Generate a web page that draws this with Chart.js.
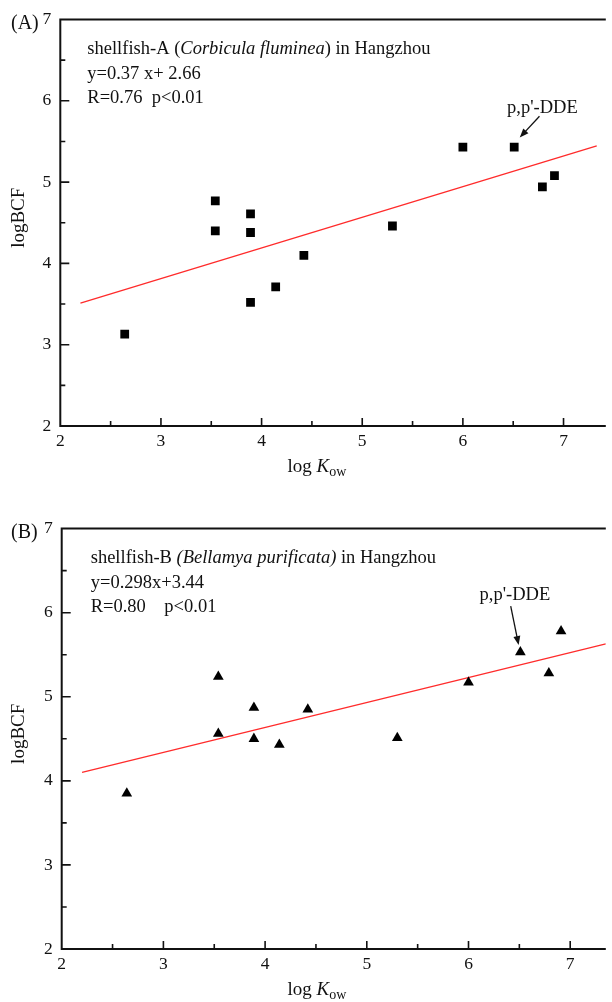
<!DOCTYPE html>
<html>
<head>
<meta charset="utf-8">
<script src="https://cdn.jsdelivr.net/npm/chart.js@4.4.0/dist/chart.umd.min.js"></script>
<style>
  html, body { margin: 0; padding: 0; background: #fff; }
  body { width: 612px; height: 1002px; position: relative; overflow: hidden; }
  canvas { position: absolute; left: 0; }
  #chartA { top: 0; }
  #chartB { top: 500px; }
</style>
</head>
<body>
<canvas id="chartA" width="612" height="500"></canvas>
<canvas id="chartB" width="612" height="502"></canvas>
<script>
// ---- values ----
const xTicks = [2, 3, 4, 5, 6, 7];
const yTicks = [2, 3, 4, 5, 6, 7];

// (A) shellfish-A, Corbicula fluminea
const logKowA = [2.64, 3.54, 3.54, 3.89, 3.89, 3.89, 4.14, 4.42, 5.30, 6.00, 6.51, 6.79, 6.91];
const logBcfA = [3.13, 4.77, 4.40, 4.61, 4.38, 3.52, 3.71, 4.10, 4.46, 5.43, 5.43, 4.94, 5.08];
const fitXA = [2.2, 7.33];
const fitYA = [3.51, 5.445];

// (B) shellfish-B, Bellamya purificata
const logKowB = [2.64, 3.54, 3.54, 3.89, 3.89, 4.14, 4.42, 5.30, 6.00, 6.51, 6.79, 6.91];
const logBcfB = [3.85, 5.24, 4.56, 4.87, 4.50, 4.43, 4.85, 4.51, 5.17, 5.53, 5.28, 5.78];
const fitXB = [2.2, 7.35];
const fitYB = [4.10, 5.63];

const serif = '"Liberation Serif", "Times New Roman", serif';
const ink = '#111';

const toPoints = (xs, ys) => xs.map((x, i) => ({ x: x, y: ys[i] }));

// draws a run of text pieces (normal / italic / subscript) one after the other
function richText(ctx, parts, x, y, measureOnly) {
    let cx = x;
    parts.forEach(p => {
        ctx.font = (p.italic ? 'italic ' : '') + (p.size || 18.5) + 'px ' + serif;
        if (!measureOnly) ctx.fillText(p.text, cx, y + (p.dy || 0));
        cx += ctx.measureText(p.text).width;
    });
    return cx - x;
}

// frame, inward ticks, labels and the p,p'-DDE arrow
const figureDecor = {
    id: 'figureDecor',
    afterDraw(chart, args, o) {
        const ctx = chart.ctx;
        const a = chart.chartArea;
        const xs = chart.scales.x, ys = chart.scales.y;
        ctx.save();

        ctx.strokeStyle = ink;
        ctx.lineWidth = 2;
        ctx.beginPath();
        ctx.moveTo(a.right, a.top);
        ctx.lineTo(a.left, a.top);
        ctx.lineTo(a.left, a.bottom);
        ctx.lineTo(a.right, a.bottom);
        ctx.stroke();

        ctx.lineWidth = 1.6;
        ctx.beginPath();
        for (let v = xs.min + 0.5; v <= xs.max; v += 0.5) {
            const px = xs.getPixelForValue(v);
            const len = Number.isInteger(v) ? 8 : 5;
            ctx.moveTo(px, a.bottom);
            ctx.lineTo(px, a.bottom - len);
        }
        for (let v = ys.min + 0.5; v < ys.max; v += 0.5) {
            const py = ys.getPixelForValue(v);
            const len = Number.isInteger(v) ? 9 : 5;
            ctx.moveTo(a.left, py);
            ctx.lineTo(a.left + len, py);
        }
        ctx.stroke();

        ctx.fillStyle = ink;
        ctx.textBaseline = 'middle';
        ctx.textAlign = 'left';

        // panel letter
        ctx.font = '20px ' + serif;
        ctx.fillText(o.panel, 11, a.top + 4);

        // text block inside the plot
        o.lines.forEach((parts, i) => {
            richText(ctx, parts, a.left + o.textX, a.top + 30 + i * 24.5);
        });

        // axis titles
        ctx.save();
        ctx.translate(19, (a.top + a.bottom) / 2 - 5);
        ctx.rotate(-Math.PI / 2);
        ctx.textAlign = 'center';
        ctx.font = '19px ' + serif;
        ctx.fillText('logBCF', 0, 0);
        ctx.restore();

        const title = [
            { text: 'log ', size: 19 },
            { text: 'K', italic: true, size: 19 },
            { text: 'ow', size: 14, dy: 5 }
        ];
        const tw = richText(ctx, title, 0, 0, true);
        richText(ctx, title, 317 - tw / 2, a.bottom + 41);

        // p,p'-DDE note with arrow
        const n = o.note;
        ctx.textAlign = 'center';
        ctx.font = '18.5px ' + serif;
        ctx.fillText("p,p'-DDE", xs.getPixelForValue(n.x), ys.getPixelForValue(n.y));
        const tx = xs.getPixelForValue(n.tailX), ty = ys.getPixelForValue(n.tailY);
        const hx = xs.getPixelForValue(n.headX), hy = ys.getPixelForValue(n.headY);
        const ang = Math.atan2(hy - ty, hx - tx);
        ctx.lineWidth = 1.3;
        ctx.beginPath();
        ctx.moveTo(tx, ty);
        ctx.lineTo(hx - 6 * Math.cos(ang), hy - 6 * Math.sin(ang));
        ctx.stroke();
        ctx.beginPath();
        ctx.moveTo(hx, hy);
        ctx.lineTo(hx - 9 * Math.cos(ang) + 3.5 * Math.sin(ang), hy - 9 * Math.sin(ang) - 3.5 * Math.cos(ang));
        ctx.lineTo(hx - 9 * Math.cos(ang) - 3.5 * Math.sin(ang), hy - 9 * Math.sin(ang) + 3.5 * Math.cos(ang));
        ctx.closePath();
        ctx.fill();

        ctx.restore();
    }
};

function makePanel(id, cfg) {
    const tickFont = { family: serif, size: 17.5 };
    new Chart(document.getElementById(id), {
        type: 'scatter',
        data: {
            datasets: [
                {
                    data: toPoints(cfg.xs, cfg.ys),
                    pointStyle: cfg.marker,
                    pointRadius: 6.2,
                    backgroundColor: '#000',
                    borderWidth: 0
                },
                {
                    type: 'line',
                    data: toPoints(cfg.fitX, cfg.fitY),
                    borderColor: '#ff2b2b',
                    borderWidth: 1.3,
                    pointRadius: 0,
                    fill: false
                }
            ]
        },
        options: {
            responsive: false,
            animation: false,
            events: [],
            layout: { padding: { top: cfg.top, right: 0, bottom: 0, left: 0 } },
            plugins: {
                legend: { display: false },
                tooltip: { enabled: false },
                figureDecor: cfg.decor
            },
            scales: {
                x: {
                    type: 'linear',
                    min: 2,
                    max: cfg.xMax,
                    afterBuildTicks: s => { s.ticks = xTicks.map(v => ({ value: v })); },
                    afterFit: s => { s.height = cfg.xAxisHeight; },
                    ticks: { font: tickFont, color: ink, padding: 5, maxRotation: 0 },
                    grid: { display: false, drawTicks: false },
                    border: { display: false }
                },
                y: {
                    type: 'linear',
                    min: 2,
                    max: 7,
                    afterBuildTicks: s => { s.ticks = yTicks.map(v => ({ value: v })); },
                    afterFit: s => { s.width = cfg.left; },
                    ticks: { font: tickFont, color: ink, padding: 9 },
                    grid: { display: false, drawTicks: false },
                    border: { display: false }
                }
            }
        },
        plugins: [figureDecor]
    });
}

makePanel('chartA', {
    xs: logKowA, ys: logBcfA, fitX: fitXA, fitY: fitYA,
    marker: 'rect', xMax: 7.42, top: 13.5, left: 60.3, xAxisHeight: 74,
    decor: {
        panel: '(A)',
        textX: 27,
        lines: [
            [{ text: 'shellfish-A (' }, { text: 'Corbicula fluminea', italic: true }, { text: ') in Hangzhou' }],
            [{ text: 'y=0.37 x+ 2.66' }],
            [{ text: 'R=0.76  p<0.01' }]
        ],
        note: { x: 6.79, y: 5.915, tailX: 6.761, tailY: 5.81, headX: 6.565, headY: 5.548 }
    }
});

makePanel('chartB', {
    xs: logKowB, ys: logBcfB, fitX: fitXB, fitY: fitYB,
    marker: 'triangle', xMax: 7.35, top: 28.6, left: 61.7, xAxisHeight: 53,
    decor: {
        panel: '(B)',
        textX: 29,
        lines: [
            [{ text: 'shellfish-B ' }, { text: '(Bellamya purificata)', italic: true }, { text: ' in Hangzhou' }],
            [{ text: 'y=0.298x+3.44' }],
            [{ text: 'R=0.80    p<0.01' }]
        ],
        note: { x: 6.456, y: 6.21, tailX: 6.415, tailY: 6.078, headX: 6.493, headY: 5.615 }
    }
});
</script>
</body>
</html>
